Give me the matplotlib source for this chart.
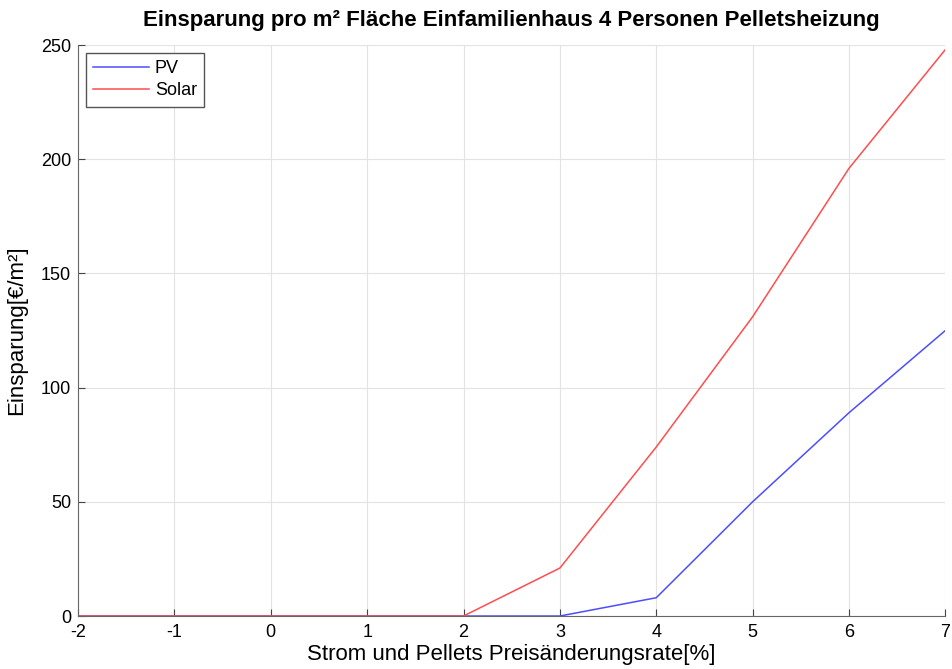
import numpy as np
import matplotlib
matplotlib.use("Agg")
import matplotlib.pyplot as plt

plt.rcParams['font.family'] = ['Liberation Sans', 'DejaVu Sans']
plt.rcParams['axes.unicode_minus'] = False

# Preisänderungsrate [%] und Einsparung [€/m²]
rate = [-2, -1, 0, 1, 2, 3, 4, 5, 6, 7]
pv = [0, 0, 0, 0, 0, 0, 8, 50, 89, 125]
solar = [0, 0, 0, 0, 0, 21, 74, 131, 196, 248]

fig = plt.figure(figsize=(9.52, 6.69), dpi=100)
ax = fig.add_axes([0.082, 0.0792, 0.911, 0.8535])

ax.plot(rate, pv, color='#4d4dff', lw=1.1, label='PV')
ax.plot(rate, solar, color='#ff4d4d', lw=1.1, label='Solar')

ax.set_xlim(-2, 7)
ax.set_ylim(0, 250)
ax.set_xticks(range(-2, 8))
ax.set_yticks(range(0, 251, 50))
ax.grid(True, color='#e3e3e3', lw=0.8)
ax.set_axisbelow(True)

for side in ['top', 'right']:
    ax.spines[side].set_visible(False)
for side in ['left', 'bottom']:
    ax.spines[side].set_color('#666666')
ax.tick_params(direction='in', length=5, colors='#444444', labelsize=13,
               labelcolor='black')
ax.tick_params(axis='x', pad=6)
ax.tick_params(axis='y', pad=5)

ax.set_title('Einsparung pro m² Fläche Einfamilienhaus 4 Personen Pelletsheizung',
             fontsize=16, fontweight='bold', pad=14)
ax.set_xlabel('Strom und Pellets Preisänderungsrate[%]', fontsize=16, labelpad=2)
ax.set_ylabel('Einsparung[€/m²]', fontsize=16, labelpad=10)

leg = ax.legend(loc='upper left', fontsize=13, fancybox=False, framealpha=1,
                borderaxespad=0.45, handlelength=3.1, handletextpad=0.3,
                borderpad=0.4, labelspacing=0.28)
leg.get_frame().set_edgecolor('#555555')
leg.get_frame().set_linewidth(1.0)

fig.savefig('out.png', dpi=100)
